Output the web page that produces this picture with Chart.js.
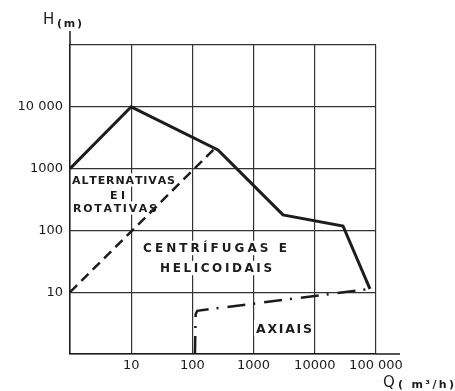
<!DOCTYPE html>
<html>
<head>
<meta charset="utf-8">
<script src="https://cdn.jsdelivr.net/npm/chart.js@4.4.1/dist/chart.umd.min.js"></script>
<style>
  html, body { margin: 0; padding: 0; background: #fff; }
</style>
</head>
<body>
<canvas id="myChart" width="455" height="391"></canvas>
<script>
// pump ranges, Q (m3/h) against H (m), both log
const decades = [1, 10, 100, 1000, 10000, 100000];
const xTickLabels = ['', '10', '100', '1000', '10000', '100 000'];
const yTickLabels = ['', '10', '100', '1000', '10 000', ''];

// upper limit (solid)
const upperQ = [1, 10, 262, 3020, 28900, 79600];
const upperH = [1000, 10000, 2000, 178, 118, 11.3];

// alternativas / centrifugas boundary (dashed)
const rotaryQ = [1, 230];
const rotaryH = [10, 2100];

// axial boundary (dash-dot)
const axialQ = [110, 113, 120, 79600];
const axialH = [1, 4.4, 5.0, 11.3];

const ink = '#1c1c1c';

// region names, placed in data coords (left edge, middle)
const regionLabels = [
  { text: 'ALTERNATIVAS', q: 1.08, h: 654, width: 103, size: 11 },
  { text: 'E I', q: 4.5, h: 374, width: 15, size: 11 },
  { text: 'ROTATIVAS', q: 1.12, h: 230, width: 84, size: 11 },
  { text: 'CENTRÍFUGAS E', q: 15.6, h: 51.9, width: 144, size: 12 },
  { text: 'HELICOIDAIS', q: 29.6, h: 24.6, width: 112, size: 12 },
  { text: 'AXIAIS', q: 1094, h: 2.64, width: 56, size: 12.5 }
];

function toPoints(qs, hs) {
  return qs.map((q, i) => ({ x: q, y: hs[i] }));
}

function drawSpaced(ctx, text, left, baseline, width) {
  const chars = Array.from(text);
  let raw = 0;
  chars.forEach(c => { raw += ctx.measureText(c).width; });
  const gap = chars.length > 1 ? (width - raw) / (chars.length - 1) : 0;
  let x = left;
  chars.forEach(c => {
    ctx.fillText(c, x, baseline);
    x += ctx.measureText(c).width + gap;
  });
}

const annotate = {
  id: 'annotate',
  beforeDatasetsDraw(chart) {
    const ctx = chart.ctx;
    const x = chart.scales.x;
    const y = chart.scales.y;
    const area = chart.chartArea;
    ctx.save();
    ctx.textBaseline = 'alphabetic';
    ctx.textAlign = 'left';
    regionLabels.forEach(l => {
      const left = x.getPixelForValue(l.q);
      const mid = y.getPixelForValue(l.h);
      const rx = Math.max(left - 2, area.left + 1.5);
      ctx.fillStyle = '#fff';
      ctx.fillRect(rx, mid - l.size * 0.6, left + l.width + 2 - rx, l.size * 1.2);
      ctx.fillStyle = ink;
      ctx.font = 'bold ' + l.size + 'px "DejaVu Sans"';
      drawSpaced(ctx, l.text, left, mid + l.size * 0.365, l.width);
    });
    ctx.restore();
  },
  afterDraw(chart) {
    const ctx = chart.ctx;
    const area = chart.chartArea;
    ctx.save();
    ctx.strokeStyle = ink;
    ctx.lineWidth = 1.5;
    ctx.beginPath();
    ctx.moveTo(area.left, area.top);
    ctx.lineTo(area.left, 31);
    ctx.moveTo(area.right, area.bottom);
    ctx.lineTo(400, area.bottom);
    ctx.stroke();

    ctx.fillStyle = ink;
    ctx.textBaseline = 'alphabetic';
    ctx.font = '15px "DejaVu Sans"';
    ctx.fillText('H', 43, 23.5);
    ctx.font = 'bold 11px "DejaVu Sans"';
    drawSpaced(ctx, '(m)', 57, 27, 25);
    ctx.font = '15px "DejaVu Sans"';
    ctx.fillText('Q', 383, 387);
    ctx.font = 'bold 11px "DejaVu Sans"';
    drawSpaced(ctx, '( m³/h)', 398, 388, 56);
    ctx.restore();
  }
};

const decadeTicks = scale => {
  scale.ticks = decades.map(v => ({ value: v }));
};

new Chart(document.getElementById('myChart'), {
  type: 'line',
  data: {
    datasets: [
      {
        label: 'limite',
        data: toPoints(upperQ, upperH),
        borderColor: ink,
        borderWidth: 3,
        pointRadius: 0,
        tension: 0
      },
      {
        label: 'rotativas',
        data: toPoints(rotaryQ, rotaryH),
        borderColor: ink,
        borderWidth: 2.5,
        borderDash: [10, 6],
        pointRadius: 0
      },
      {
        label: 'axiais',
        data: toPoints(axialQ, axialH),
        borderColor: ink,
        borderWidth: 2.5,
        borderDash: [18, 8, 2, 9],
        pointRadius: 0
      }
    ]
  },
  options: {
    responsive: false,
    animation: false,
    layout: { padding: { left: 0, right: 79, top: 45, bottom: 0 } },
    plugins: {
      legend: { display: false },
      tooltip: { enabled: false }
    },
    scales: {
      x: {
        type: 'logarithmic',
        min: 1,
        max: 100000,
        afterBuildTicks: decadeTicks,
        afterFit: s => { s.height = 37; },
        grid: { color: '#333', lineWidth: 1.2, drawTicks: false },
        border: { color: ink, width: 1.5 },
        ticks: {
          autoSkip: false,
          maxRotation: 0,
          padding: 4,
          color: ink,
          font: { family: 'DejaVu Sans', size: 13 },
          callback: (v, i) => xTickLabels[i]
        }
      },
      y: {
        type: 'logarithmic',
        min: 1,
        max: 100000,
        afterBuildTicks: decadeTicks,
        afterFit: s => { s.width = 70; },
        grid: { color: '#333', lineWidth: 1.2, drawTicks: false },
        border: { color: ink, width: 1.5 },
        ticks: {
          autoSkip: false,
          padding: 7,
          color: ink,
          font: { family: 'DejaVu Sans', size: 13 },
          callback: (v, i) => yTickLabels[i]
        }
      }
    }
  },
  plugins: [annotate]
});
</script>
</body>
</html>
